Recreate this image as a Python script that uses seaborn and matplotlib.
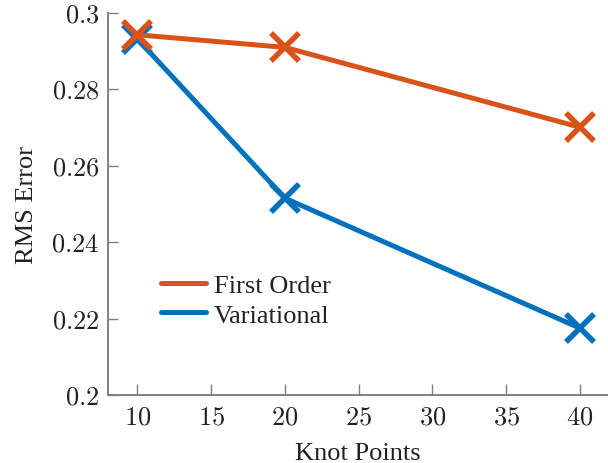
import matplotlib
matplotlib.use("Agg")
import matplotlib.pyplot as plt
from matplotlib.lines import Line2D
import seaborn as sns
import pandas as pd

knot_points = [10, 20, 40]
first_order = [0.2943, 0.2910, 0.2701]
variational = [0.2932, 0.2515, 0.2175]
series_names = ["First Order", "Variational"]
colors = {"First Order": "#D95319", "Variational": "#0072BD"}
x_ticks = [10, 15, 20, 25, 30, 35, 40]
y_ticks = [0.2, 0.22, 0.24, 0.26, 0.28, 0.3]
y_tick_labels = ["0.2", "0.22", "0.24", "0.26", "0.28", "0.3"]

df = pd.DataFrame({
    "Knot Points": knot_points * 2,
    "RMS Error": variational + first_order,
    "method": ["Variational"] * 3 + ["First Order"] * 3,
})

sns.set_style("white")
plt.rcParams["font.family"] = ["Liberation Serif", "DejaVu Serif"]
plt.rcParams["mathtext.fontset"] = "cm"

fig = plt.figure(figsize=(6.08, 4.64), dpi=100)
ax = fig.add_axes([0.1776, 0.1466, 0.8224, 0.8232])

for name in ["Variational", "First Order"]:
    sub = df[df["method"] == name]
    sns.lineplot(data=sub, x="Knot Points", y="RMS Error", ax=ax,
                 color=colors[name], linewidth=3.6, marker="x",
                 markersize=20, markeredgewidth=4,
                 markeredgecolor=colors[name], markerfacecolor=colors[name],
                 legend=False, clip_on=False)

ax.set_xlim(8, 41.9)
ax.set_ylim(0.2, 0.3)
ax.set_xticks(x_ticks)
ax.set_yticks(y_ticks)
ax.set_xticklabels([f"${t}$" for t in x_ticks])
ax.set_yticklabels([f"${t}$" for t in y_tick_labels])

for s in ["top", "right"]:
    ax.spines[s].set_visible(False)
for s in ["left", "bottom"]:
    ax.spines[s].set_color("#808080")
    ax.spines[s].set_linewidth(1.4)

ax.tick_params(axis="both", direction="in", colors="#808080", labelcolor="#222222",
               labelsize=19, width=1.0, bottom=True, left=True, top=False, right=False)
ax.tick_params(axis="x", length=8, pad=8)
ax.tick_params(axis="y", length=7, pad=6)

ax.set_xlabel("Knot Points", fontsize=19, color="#222222", labelpad=10)
ax.set_ylabel("RMS Error", fontsize=19, color="#222222", labelpad=10)

handles = [Line2D([0], [0], color=colors[n], linewidth=3.6) for n in series_names]
leg = ax.legend(handles, series_names, loc="upper left", bbox_to_anchor=(0.085, 0.345),
                frameon=False, fontsize=19, handlelength=1.7, handletextpad=0.3,
                labelspacing=0.22, borderaxespad=0)
for t in leg.get_texts():
    t.set_color("#222222")

fig.savefig("out.png", dpi=100)
